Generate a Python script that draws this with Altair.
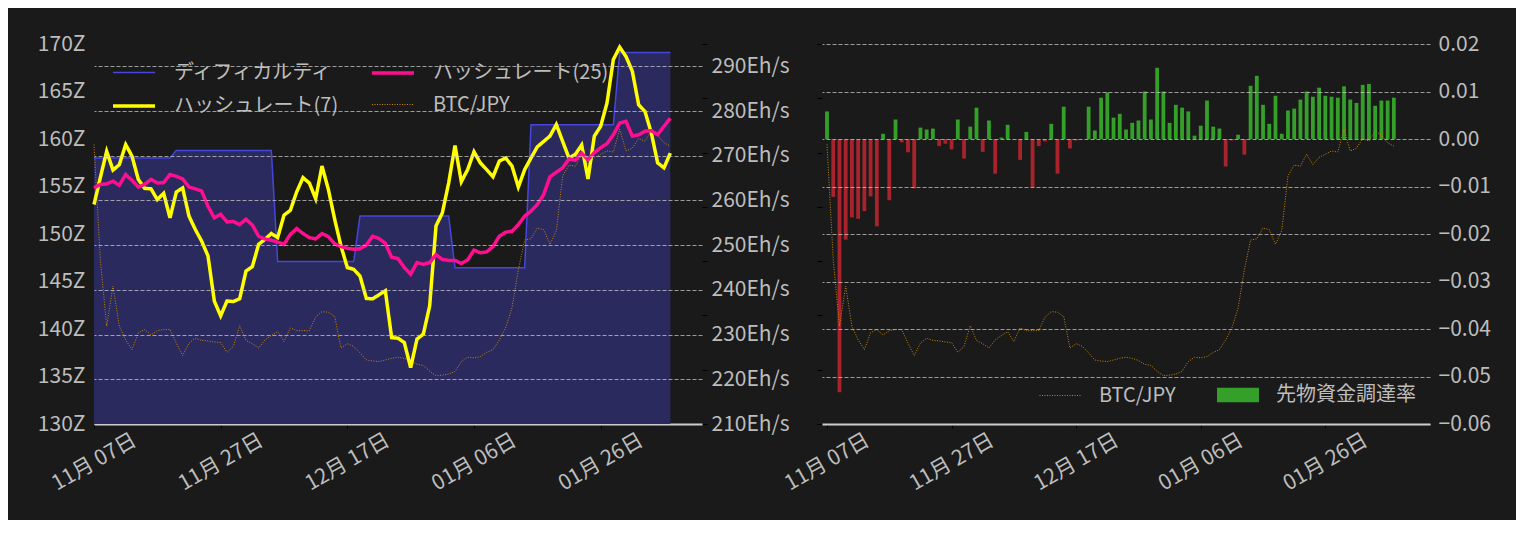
import altair as alt
import pandas as pd

# ---------------- data ----------------
START = "2023-11-07"
dates = pd.date_range(START, periods=92, freq="D").strftime("%Y-%m-%d").tolist()

difficulty = [
    158.0, 158.0, 158.0, 158.0, 158.0, 158.0, 158.0, 158.0, 158.0, 158.0,
    158.0, 158.0, 158.0, 158.8, 158.8, 158.8, 158.8, 158.8, 158.8, 158.8,
    158.8, 158.8, 158.8, 158.8, 158.8, 158.8, 158.8, 158.8, 158.8, 147.1,
    147.1, 147.1, 147.1, 147.1, 147.1, 147.1, 147.1, 147.1, 147.1, 147.1,
    147.1, 147.1, 151.9, 151.9, 151.9, 151.9, 151.9, 151.9, 151.9, 151.9,
    151.9, 151.9, 151.9, 151.9, 151.9, 151.9, 151.9, 146.45, 146.45, 146.45,
    146.45, 146.45, 146.45, 146.45, 146.45, 146.45, 146.45, 146.45, 146.45, 161.5,
    161.5, 161.5, 161.5, 161.5, 161.5, 161.5, 161.5, 161.5, 161.5, 161.5,
    161.5, 161.5, 161.5, 169.1, 169.1, 169.1, 169.1, 169.1, 169.1, 169.1,
    169.1, 169.1,
]

hashrate7 = [
    259.1, 265.1, 271.0, 266.8, 268.0, 272.5, 269.9, 264.7, 262.7, 262.6,
    260.2, 261.6, 256.1, 261.9, 262.8, 256.5, 253.5, 250.9, 247.6, 237.5,
    234.2, 237.5, 237.4, 238.0, 244.2, 245.2, 250.2, 251.3, 252.6, 251.7,
    256.7, 257.8, 261.9, 265.1, 263.9, 260.4, 267.7, 262.5, 255.8, 249.8,
    245.0, 244.6, 243.1, 238.1, 238.0, 238.9, 239.8, 229.3, 229.2, 228.2,
    222.6, 229.0, 230.1, 236.4, 254.3, 257.2, 263.9, 272.3, 264.2, 266.9,
    270.9, 268.4, 266.9, 265.3, 268.8, 269.5, 267.7, 263.0, 266.9, 269.5,
    272.0, 273.2, 274.4, 277.0, 273.2, 269.5, 270.3, 272.4, 264.8, 274.4,
    276.6, 281.8, 291.5, 294.3, 292.2, 288.9, 281.4, 279.9, 275.1, 268.4,
    267.3, 270.6,
]

hashrate25 = [
    262.8, 263.6, 263.7, 264.3, 263.4, 265.8, 264.5, 263.0, 263.6, 264.7,
    263.9, 264.0, 265.8, 265.4, 264.8, 263.0, 262.6, 262.1, 258.7, 256.1,
    256.9, 255.2, 255.3, 254.6, 255.8, 254.5, 252.0, 251.4, 251.1, 250.7,
    250.2, 252.4, 253.7, 252.6, 251.7, 251.4, 252.6, 251.9, 250.3, 249.7,
    249.3, 249.1, 249.2, 250.0, 252.0, 251.5, 250.4, 247.3, 247.0, 245.0,
    243.5, 246.1, 245.7, 246.1, 247.9, 246.8, 246.6, 246.6, 245.9, 246.7,
    248.9, 248.3, 248.5, 249.7, 252.0, 252.9, 253.1, 254.6, 256.5, 257.6,
    259.1, 261.3, 265.3, 266.3, 267.3, 269.3, 269.0, 270.6, 269.1, 270.7,
    271.8, 272.7, 274.7, 277.3, 277.7, 274.4, 274.7, 275.5, 275.6, 274.7,
    276.6, 278.4,
]

# BTC/JPY (万円) - plotted on a hidden axis
btc_jpy = [
    1115, 903, 780, 854, 780, 755, 737, 768, 774, 764,
    772, 774, 774, 749, 726, 749, 758, 754, 753, 751,
    750, 732, 743, 781, 754, 748, 740, 755, 763, 770,
    752, 777, 772, 772, 772, 797, 807, 806, 798, 740,
    748, 743, 731, 718, 716, 715, 718, 721, 723, 721,
    717, 710, 708, 697, 689, 690, 692, 697, 715, 723,
    722, 724, 732, 737, 755, 777, 814, 884, 939, 941,
    961, 958, 931, 956, 1057, 1077, 1075, 1097, 1078, 1091,
    1097, 1103, 1101, 1143, 1103, 1108, 1126, 1121, 1140, 1132,
    1118, 1112,
]

funding = [
    0.0058, -0.0122, -0.0533, -0.0212, -0.0165, -0.0168, -0.0152, -0.0121, -0.0184, 0.0011,
    -0.0129, 0.0041, -0.0007, -0.0028, -0.0104, 0.0024, 0.0020, 0.0022, -0.0015, -0.0010,
    -0.0022, 0.0041, -0.0041, 0.0026, 0.0066, -0.0027, 0.0039, -0.0073, 0.0003, 0.0030,
    0.0000, -0.0044, 0.0015, -0.0101, -0.0015, -0.0005, 0.0032, -0.0073, 0.0068, -0.0020,
    -0.0003, 0.0000, 0.0068, 0.0018, 0.0087, 0.0098, 0.0045, 0.0053, 0.0020, 0.0034,
    0.0039, 0.0100, 0.0041, 0.0150, 0.0100, 0.0034, 0.0072, 0.0066, 0.0058, 0.0007,
    0.0028, 0.0081, 0.0026, 0.0022, -0.0058, -0.0003, 0.0009, -0.0033, 0.0112, 0.0133,
    0.0072, 0.0032, 0.0091, 0.0011, 0.0060, 0.0064, 0.0083, 0.0100, 0.0089, 0.0108,
    0.0091, 0.0089, 0.0087, 0.0111, 0.0083, 0.0076, 0.0114, 0.0116, 0.0070, 0.0081,
    0.0081, 0.0087,
]

left_series = ["ディフィカルティ", "ハッシュレート(25)", "ハッシュレート(7)", "BTC/JPY"]
right_series = ["BTC/JPY", "先物資金調達率"]

tick_dates = [(2023, 11, 7), (2023, 11, 27), (2023, 12, 17), (2024, 1, 6), (2024, 1, 26)]
x_domain = [(2023, 11, 7), (2024, 2, 11)]
z_ticks = [130, 135, 140, 145, 150, 155, 160, 165, 170]
eh_ticks = [210, 220, 230, 240, 250, 260, 270, 280, 290]
btc_ticks = [600, 700, 800, 900, 1000, 1100, 1200, 1300]
fund_ticks = [-0.06, -0.05, -0.04, -0.03, -0.02, -0.01, 0.0, 0.01, 0.02]

# ---------------- style ----------------
BG = "#1a1a1a"
TXT = "#bdbdbd"
FONT = "Noto Sans CJK JP"
BLUE = "#4646dc"
AREA = "#2b2a5f"
PINK = "#ff0f8f"
YELLOW = "#ffff00"
GOLD = "#c8860a"
GREEN = "#34a02a"
RED = "#a8232b"
W, H = 608, 380
LINE_W = [1.5, 3.5, 3.5, 1.0]
DOT = [1, 1.5]
SOLID = [1, 0]
RECT = "M-1,-0.35H1V0.35H-1Z"


def dt(t):
    return alt.DateTime(year=t[0], month=t[1], date=t[2], utc=True)


def xenc():
    return alt.X(
        "date:T",
        title=None,
        scale=alt.Scale(type="utc", domain=[dt(t) for t in x_domain]),
        axis=alt.Axis(
            values=[dt(t) for t in tick_dates], labelExpr="utcFormat(datum.value, '%m月 %d日')",
            labelAngle=330, labelAlign="center", labelBaseline="middle", labelPadding=34,
            labelFontSize=21, labelColor=TXT, labelFont=FONT, labelOverlap=False,
            domainColor="#d0d0d0", domainWidth=2, tickColor="#000000", tickSize=4,
            grid=False,
        ),
    )


def hidden_btc_axis(orient):
    return alt.Axis(orient=orient, values=btc_ticks, labels=False, domain=False, ticks=True,
                    tickColor="#000000", tickSize=5, grid=False, title=None)


grid_kw = dict(grid=True, gridColor="#c8c8c8", gridOpacity=0.75, gridDash=[4, 2], gridWidth=1)
leg_txt = dict(labelFontSize=20, labelColor=TXT, labelFont=FONT, labelLimit=400, title=None,
               orient="none", zindex=1)

# ---------------- left chart ----------------
df_diff = pd.DataFrame({"date": dates, "v": difficulty, "series": left_series[0]})
df_h25 = pd.DataFrame({"date": dates, "v": hashrate25, "series": left_series[1]})
df_h7 = pd.DataFrame({"date": dates, "v": hashrate7, "series": left_series[2]})
df_btc = pd.DataFrame({"date": dates, "v": btc_jpy, "series": left_series[3]})

left_legend = alt.Legend(
    legendX=17, legendY=6, columns=2, direction="horizontal",
    columnPadding=26, rowPadding=-12, symbolType="stroke", symbolSize=1764,
    labelOffset=17, **leg_txt,
)


def series_enc():
    return dict(
        color=alt.Color("series:N", scale=alt.Scale(domain=left_series, range=[BLUE, PINK, YELLOW, GOLD]),
                        legend=left_legend),
        strokeWidth=alt.StrokeWidth("series:N", scale=alt.Scale(type="ordinal", domain=left_series,
                                                                range=LINE_W), legend=left_legend),
        strokeDash=alt.StrokeDash("series:N", scale=alt.Scale(domain=left_series,
                                                              range=[SOLID, SOLID, SOLID, DOT]),
                                  legend=left_legend),
    )


z_axis = alt.Axis(orient="left", values=z_ticks, labelExpr="datum.value + 'Z'", ticks=False, domain=False,
                  labelPadding=9, labelFontSize=21, labelColor=TXT, labelFont=FONT, grid=False, title=None)
zy = alt.Y("v:Q", title=None, scale=alt.Scale(domain=[130, 170], nice=False, zero=False), axis=z_axis)

area = alt.Chart(df_diff).mark_area(color=AREA, opacity=1, clip=True).encode(
    x=xenc(), y=zy, y2=alt.datum(z_ticks[0]))
diff_line = alt.Chart(df_diff).mark_line().encode(x=xenc(), y=zy, **series_enc())

btc_y = alt.Y("v:Q", title=None, scale=alt.Scale(domain=[600, 1300], nice=False, zero=False),
              axis=hidden_btc_axis("right"))
btc_line = alt.Chart(df_btc).mark_line().encode(x=xenc(), y=btc_y, **series_enc())

eh_axis = alt.Axis(orient="right", values=eh_ticks, labelExpr="datum.value + 'Eh/s'", ticks=False,
                   domain=False, labelPadding=9, labelFontSize=21, labelColor=TXT, labelFont=FONT,
                   zindex=1, title=None, **grid_kw)
ehy = alt.Y("v:Q", title=None, scale=alt.Scale(domain=[210, 295], nice=False, zero=False), axis=eh_axis)
h7_line = alt.Chart(df_h7).mark_line().encode(x=xenc(), y=ehy, **series_enc())
h25_line = alt.Chart(df_h25).mark_line().encode(x=xenc(), y=ehy, **series_enc())

left = alt.layer(
    alt.layer(area, diff_line),
    alt.layer(btc_line),
    alt.layer(h7_line, h25_line),
).resolve_scale(y="independent").properties(width=W, height=H)

# ---------------- right chart ----------------
df_fund = pd.DataFrame({"date": dates, "funding": funding, "label": right_series[1]})
df_btc_r = pd.DataFrame({"date": dates, "v": btc_jpy, "series_r": right_series[0]})

fund_axis = alt.Axis(orient="right", values=fund_ticks, format=".2f", ticks=False, domain=False,
                     labelPadding=8, labelFontSize=21, labelColor=TXT, labelFont=FONT,
                     zindex=1, title=None, **grid_kw)
fund_legend = alt.Legend(legendX=395, legendY=330, symbolType=RECT, symbolSize=1764,
                         symbolStrokeWidth=0, labelOffset=17, **leg_txt)
bars = alt.Chart(df_fund).mark_bar(size=3.8, clip=True).encode(
    x=xenc(),
    y=alt.Y("funding:Q", title=None, scale=alt.Scale(domain=[-0.06, 0.02], nice=False), axis=fund_axis),
    fill=alt.condition(
        "datum.funding >= 0",
        alt.Fill("label:N", scale=alt.Scale(domain=[right_series[1]], range=[GREEN]), legend=fund_legend),
        alt.value(RED),
    ),
)

btc_legend = alt.Legend(legendX=217, legendY=330, symbolType="stroke", symbolSize=1764,
                        symbolDash=DOT, symbolStrokeWidth=1, labelOffset=17, **leg_txt)
btc_line_r = alt.Chart(df_btc_r).mark_line(strokeWidth=1, strokeDash=DOT).encode(
    x=xenc(),
    y=alt.Y("v:Q", title=None, scale=alt.Scale(domain=[600, 1300], nice=False, zero=False),
            axis=hidden_btc_axis("left")),
    stroke=alt.Stroke("series_r:N", scale=alt.Scale(domain=[right_series[0]], range=[GOLD]),
                      legend=btc_legend),
)

right = alt.layer(bars, btc_line_r).resolve_scale(y="independent").properties(width=W, height=H)

chart = (
    alt.hconcat(left, right, spacing=120, bounds="flush")
    .resolve_scale(color="independent", strokeWidth="independent", strokeDash="independent",
                   stroke="independent", fill="independent")
    .properties(background=BG, padding={"left": 29, "top": 25, "right": 25, "bottom": 26})
    .configure(font=FONT)
    .configure_view(strokeWidth=0)
)

chart.save("out.html", embed_options={"renderer": "svg", "actions": False})
